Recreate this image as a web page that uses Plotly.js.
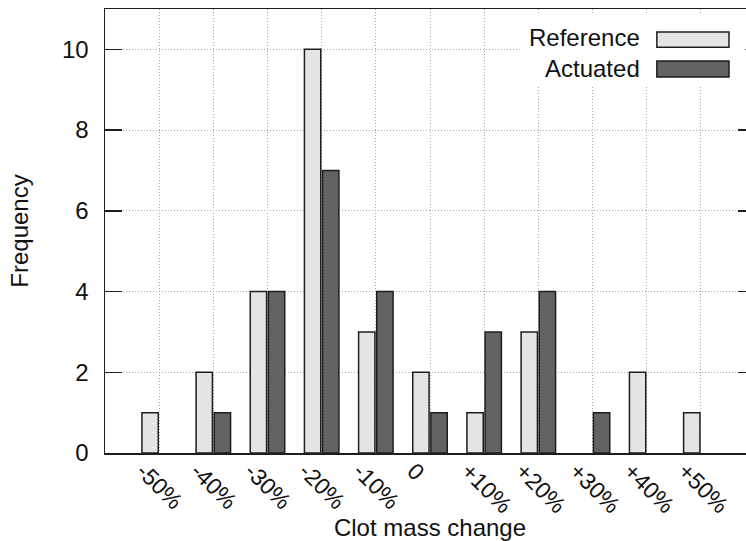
<!DOCTYPE html>
<html>
<head>
<meta charset="utf-8">
<script src="https://cdn.plot.ly/plotly-3.0.1.min.js"></script>
<style>
html, body { margin: 0; padding: 0; overflow: hidden; background: #fff; }
#chart { width: 757px; height: 541px; }
</style>
</head>
<body>
<div id="chart"></div>
<script>
var categories = ["-50%", "-40%", "-30%", "-20%", "-10%", "0", "+10%", "+20%", "+30%", "+40%", "+50%"];
var seriesNames = ["Reference", "Actuated"];
var referenceValues = [1, 2, 4, 10, 3, 2, 1, 3, 0, 2, 1];
var actuatedValues = [0, 1, 4, 7, 4, 1, 3, 4, 1, 0, 0];
var yTicks = [0, 2, 4, 6, 8, 10];

var font = "Liberation Sans, Arial, Helvetica, sans-serif";
var edge = "#1e1e1e";
var fills = ["#e4e4e4", "#636363"];

function noZero(arr) { return arr.map(function (v) { return v === 0 ? null : v; }); }

var traces = [
  { type: "bar", x: categories, y: noZero(referenceValues), name: seriesNames[0],
    marker: { color: fills[0], line: { color: edge, width: 1.5 } } },
  { type: "bar", x: categories, y: noZero(actuatedValues), name: seriesNames[1],
    marker: { color: fills[1], line: { color: edge, width: 1.5 } } }
];

var shapes = [
  { type: "rect", xref: "paper", yref: "paper", x0: 0.638, x1: 0.985, y0: 0.829, y1: 0.991,
    fillcolor: "#ffffff", line: { width: 0 }, layer: "above" },
  { type: "rect", xref: "paper", yref: "paper", x0: 0.849, x1: 0.96, y0: 0.914, y1: 0.948,
    fillcolor: fills[0], line: { color: edge, width: 1.5 }, layer: "above" },
  { type: "rect", xref: "paper", yref: "paper", x0: 0.849, x1: 0.96, y0: 0.847, y1: 0.883,
    fillcolor: fills[1], line: { color: edge, width: 1.5 }, layer: "above" }
];

var annotations = [
  { xref: "paper", yref: "paper", x: 0.826, y: 0.935, xanchor: "right", yanchor: "middle",
    text: seriesNames[0], showarrow: false, font: { family: font, size: 24, color: "#111" } },
  { xref: "paper", yref: "paper", x: 0.826, y: 0.867, xanchor: "right", yanchor: "middle",
    text: seriesNames[1], showarrow: false, font: { family: font, size: 24, color: "#111" } }
];

var gridDash = "1px,2px";

var layout = {
  width: 757, height: 541,
  margin: { l: 105, r: 2, t: 9, b: 88 },
  paper_bgcolor: "#fff", plot_bgcolor: "#fff",
  showlegend: false,
  barmode: "group", bargap: 0.33, bargroupgap: 0.1,
  font: { family: font, size: 24, color: "#111" },
  xaxis: {
    type: "category", range: [-1, 11],
    tickangle: 45, ticks: "", ticklabelshift: -16, ticklabelstandoff: -6,
    showline: true, linecolor: edge, linewidth: 1.5, mirror: true,
    showgrid: true, gridcolor: "#a8a8a8", griddash: gridDash, gridwidth: 1,
    tickfont: { family: font, size: 23, color: "#111" },
    title: { text: "Clot mass change", font: { family: font, size: 24, color: "#111" }, standoff: 0 }
  },
  yaxis: {
    range: [0, 11], tickvals: yTicks, ticktext: yTicks.map(String),
    ticks: "inside", ticklen: 17, tickwidth: 1.5, tickcolor: edge,
    showline: true, linecolor: edge, linewidth: 1.5, mirror: "ticks",
    showgrid: true, gridcolor: "#a8a8a8", griddash: gridDash, gridwidth: 1,
    zeroline: false, ticklabelstandoff: 10,
    tickfont: { family: font, size: 24, color: "#111" },
    title: { text: "Frequency", font: { family: font, size: 24, color: "#111" }, standoff: 26 }
  },
  shapes: shapes,
  annotations: annotations
};

Plotly.newPlot("chart", traces, layout, { displayModeBar: false, staticPlot: true });
</script>
</body>
</html>
